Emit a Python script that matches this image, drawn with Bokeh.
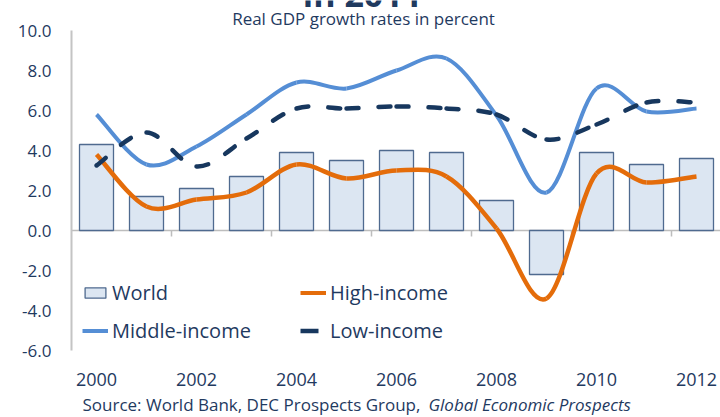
from bokeh.plotting import figure
from bokeh.models import (Range1d, FixedTicker, PrintfTickFormatter, Legend, LegendItem,
                          LinearAxis, ColumnDataSource)
from bokeh.core.properties import value
from bokeh.embed import file_html
from bokeh.resources import INLINE

years = [2000, 2001, 2002, 2003, 2004, 2005, 2006, 2007, 2008, 2009, 2010, 2011, 2012]
world = [4.3, 1.7, 2.1, 2.7, 3.9, 3.5, 4.0, 3.9, 1.5, -2.2, 3.9, 3.3, 3.6]
high_income = [3.8, 1.2, 1.55, 1.9, 3.3, 2.6, 3.0, 2.7, 0.1, -3.4, 2.85, 2.4, 2.7]
middle_income = [5.8, 3.3, 4.2, 5.8, 7.4, 7.1, 8.0, 8.6, 5.75, 1.9, 7.1, 5.95, 6.1]
low_income = [3.25, 4.9, 3.2, 4.6, 6.1, 6.1, 6.2, 6.1, 5.8, 4.55, 5.3, 6.4, 6.4]
y_ticks = [-6, -4, -2, 0, 2, 4, 6, 8, 10]
x_ticks = [2000, 2002, 2004, 2006, 2008, 2010, 2012]
title_text = "in 2011"
subtitle = "Real GDP growth rates in percent"
source_text = "Source: World Bank, DEC Prospects Group, "
source_italic = "Global Economic Prospects"

TXT = "#1f3a5f"
FONT = "Open Sans"
W, H = 720, 417
# plot area: x 71..720 px (50 px per year, 2000 at 96 px); y 30..350 px for 10..-6
PX_X, PX_Y = 50.0, 20.0
X0 = 1999.5 - 71 / PX_X
Y1 = 10 + 30 / PX_Y
Y0 = Y1 - H / PX_Y
X1 = X0 + W / PX_X


def bezier_source(xs, ys):
    # Excel-style smoothed line: cubic Bezier segments through each data point
    n = len(xs)
    d = dict(x0=[], y0=[], x1=[], y1=[], cx0=[], cy0=[], cx1=[], cy1=[])
    for i in range(n - 1):
        a = max(i - 1, 0)
        b = min(i + 2, n - 1)
        d["x0"].append(xs[i]); d["y0"].append(ys[i])
        d["x1"].append(xs[i + 1]); d["y1"].append(ys[i + 1])
        d["cx0"].append(xs[i] + (xs[i + 1] - xs[a]) / 6)
        d["cy0"].append(ys[i] + (ys[i + 1] - ys[a]) / 6)
        d["cx1"].append(xs[i + 1] - (xs[b] - xs[i]) / 6)
        d["cy1"].append(ys[i + 1] - (ys[b] - ys[i]) / 6)
    return ColumnDataSource(d)


p = figure(width=W, height=H, output_backend="svg", toolbar_location=None,
           x_range=Range1d(X0, X1), y_range=Range1d(Y0, Y1),
           x_axis_type=None, y_axis_type=None,
           min_border_left=0, min_border_right=0, min_border_top=0, min_border_bottom=0)
p.outline_line_color = None

# y axis (fixed at left edge of plot area)
yax = LinearAxis(fixed_location=1999.5, bounds=(-6, 10), ticker=FixedTicker(ticks=y_ticks),
                 formatter=PrintfTickFormatter(format="%.1f"))
yax.axis_line_color = "#c4c4c4"
yax.axis_line_width = 2
yax.major_tick_line_color = None
yax.minor_tick_line_color = None
yax.major_label_standoff = 14
yax.major_label_text_font = FONT
yax.major_label_text_font_size = "17px"
yax.major_label_text_color = TXT
p.add_layout(yax, "left")

# x axis labels (fixed at bottom of plot area)
xax = LinearAxis(fixed_location=-6, ticker=FixedTicker(ticks=x_ticks))
xax.axis_line_color = None
xax.major_tick_line_color = None
xax.minor_tick_line_color = None
xax.major_label_standoff = 16
xax.major_label_text_font = FONT
xax.major_label_text_font_size = "18px"
xax.major_label_text_color = TXT
p.add_layout(xax, "below")

# zero line with category separators
p.segment(x0=[1999.5], x1=[X1], y0=[0], y1=[0], line_color="#bdbdbd", line_width=1.5)
sep = [y + 0.5 for y in years[1:-1:2]]
p.segment(x0=sep, x1=sep, y0=[0] * len(sep), y1=[-0.3] * len(sep),
          line_color="#bdbdbd", line_width=1.5)

bars = p.vbar(x=years, top=world, bottom=0, width=0.68, fill_color="#dce6f2",
              line_color="#4f6a8f", line_width=1.3)

BZ = dict(x0="x0", y0="y0", x1="x1", y1="y1", cx0="cx0", cy0="cy0", cx1="cx1", cy1="cy1")
p.bezier(source=bezier_source(years, middle_income), line_color="#558ed5", line_width=4, **BZ)
p.bezier(source=bezier_source(years, high_income), line_color="#e46c0a", line_width=4.5, **BZ)
p.bezier(source=bezier_source(years, low_income), line_color="#17375e", line_width=4.5,
         line_dash="12 20", line_cap="round", **BZ)

# one-point legend proxies (draw nothing in the plot)
mid_l = p.line(x=years[:1], y=middle_income[:1], line_color="#558ed5", line_width=4)
hi_l = p.line(x=years[:1], y=high_income[:1], line_color="#e46c0a", line_width=4)
lo_l = p.line(x=years[:1], y=low_income[:1], line_color="#17375e", line_width=4.5,
              line_dash="18 20")


def make_legend(items, loc):
    lg = Legend(items=items, location=loc, orientation="vertical",
                label_text_font=FONT, label_text_font_size="20px", label_text_color=TXT,
                glyph_width=26, glyph_height=13, label_standoff=4, label_height=26,
                spacing=11, padding=0, margin=0, border_line_color=None,
                background_fill_alpha=0)
    p.add_layout(lg, "center")


make_legend([LegendItem(label="World", renderers=[bars]),
             LegendItem(label="Middle-income", renderers=[mid_l])], (82, 73))
make_legend([LegendItem(label="High-income", renderers=[hi_l]),
             LegendItem(label="Low-income", renderers=[lo_l])], (300, 73))


def px_x(px):
    return X0 + px / PX_X


def px_y(py):
    return Y1 - py / PX_Y


# clipped title (only its lower edge shows, as in the source), subtitle and source line
p.text(x=[px_x(362)], y=[px_y(-7)], text=[title_text], text_align="center",
       text_baseline="alphabetic", text_font=value(FONT), text_font_size="34px",
       text_font_style="bold", text_color=TXT)
p.text(x=[px_x(363)], y=[px_y(18)], text=[subtitle], text_align="center",
       text_baseline="middle", text_font=value(FONT), text_font_size="17px",
       text_color=TXT)
p.text(x=[px_x(82)], y=[px_y(404)], text=[source_text], text_align="left",
       text_baseline="middle", text_font=value(FONT), text_font_size="17px", text_color=TXT)
p.text(x=[px_x(428)], y=[px_y(404)], text=[source_italic], text_align="left",
       text_baseline="middle", text_font=value(FONT), text_font_size="17px",
       text_font_style="italic", text_color=TXT)

open("out.html", "w").write(file_html(p, INLINE))
